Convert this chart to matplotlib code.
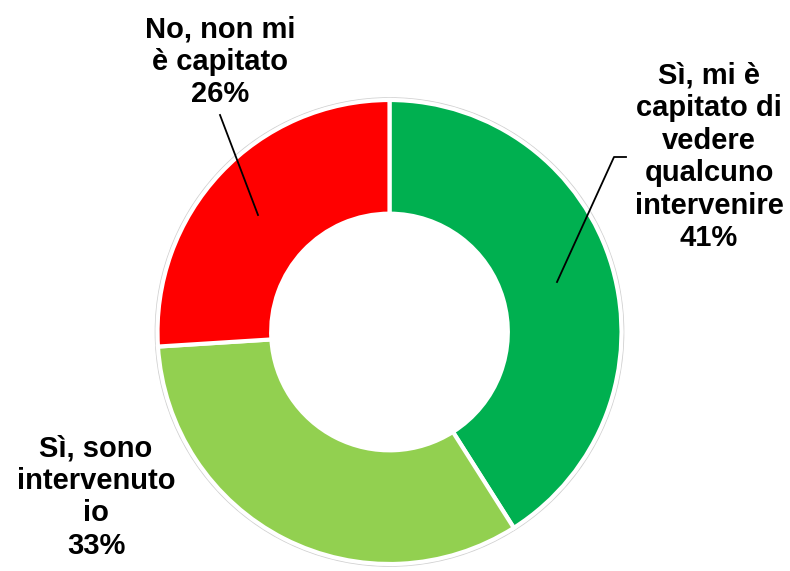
import matplotlib.pyplot as plt

# data
labels = ["Sì, mi è\ncapitato di\nvedere\nqualcuno\nintervenire", "Sì, sono\nintervenuto\nio", "No, non mi\nè capitato"]
values = [41, 33, 26]
colors = ["#00B050", "#92D050", "#FF0000"]

W, H = 790, 571
fig = plt.figure(figsize=(W / 100, H / 100), dpi=100)
ax = fig.add_axes([0, 0, 1, 1])

cx, cy, r = 389.5, H - 332, 232
# faint rim around the ring
ax.add_patch(plt.Circle((cx, cy), r + 2, facecolor="none", edgecolor="#d0d0d0", lw=1.2))
ax.pie(values, colors=colors, startangle=90, counterclock=False,
       center=(cx, cy), radius=r, frame=True,
       wedgeprops=dict(width=r * 0.49, edgecolor="white", linewidth=3))
ax.set_xlim(0, W)
ax.set_ylim(0, H)
ax.set_aspect("equal")
ax.axis("off")

font = dict(family="Liberation Sans", fontsize=21, fontweight="bold", ha="center", va="center", linespacing=1.2)
pos = [(709, H - 157), (96, H - 497), (220, H - 62)]
for lab, v, (x, y) in zip(labels, values, pos):
    ax.text(x, y, f"{lab}\n{v}%", **font)

# leader lines
ax.plot([220, 258], [H - 115, H - 215], color="black", lw=1.3)
ax.plot([626, 614, 557], [H - 157, H - 157, H - 282], color="black", lw=1.3)

fig.savefig("out.png", dpi=100)
